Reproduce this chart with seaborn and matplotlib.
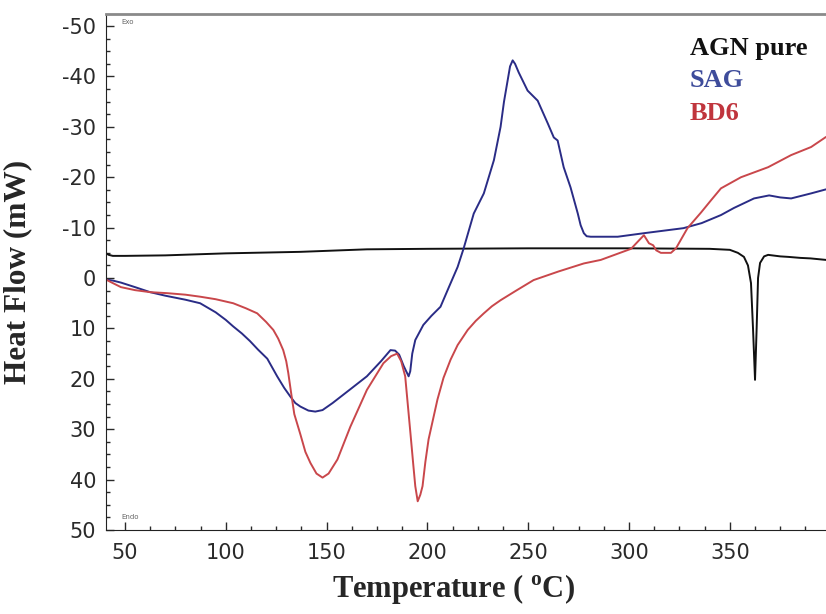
import numpy as np
import pandas as pd
import matplotlib
matplotlib.use("Agg")
import matplotlib.pyplot as plt
from matplotlib.ticker import MultipleLocator, AutoMinorLocator
import seaborn as sns

# DSC curves (Temperature in C, Heat Flow in mW)
agn_temp = [40.6, 42, 44, 50, 70, 100, 137, 170, 200, 250, 300, 340, 350, 354,
            357, 359, 360.5, 361.5, 362.5, 363.3, 364, 365, 367, 369, 375, 379,
            385, 390, 397.7]
agn_flow = [-4.9, -4.6, -4.4, -4.4, -4.5, -4.9, -5.2, -5.7, -5.8, -5.9, -5.9,
            -5.8, -5.6, -5.0, -4.2, -2.5, 1.0, 10.0, 20.2, 10.0, 0.0, -3.0,
            -4.3, -4.6, -4.3, -4.2, -4.0, -3.9, -3.6]

sag_temp = [40.6, 44, 48, 55, 62.5, 70, 80, 87.3, 95, 100, 103.7, 108, 112,
            116, 120.6, 125.5, 129, 132, 134.5, 137, 141, 144.4, 148, 153, 162,
            170, 177, 181.7, 184, 186, 188.3, 190.7, 191.5, 192.5, 194, 198,
            202, 206.5, 211, 215, 218, 223, 228, 233, 236.3, 238, 239.8, 241,
            242.3, 243.5, 245.3, 249.7, 254.7, 259.7, 262.7, 264.6, 267.6, 271,
            274.6, 276, 277.6, 279, 281, 294.4, 307.4, 327, 336, 345.6, 352,
            362, 369.5, 375, 380.4, 390.3, 397.7]
sag_flow = [0.3, 0.5, 0.9, 1.8, 2.8, 3.5, 4.3, 5.0, 6.8, 8.3, 9.6, 11.0, 12.5,
            14.2, 16.0, 19.5, 21.8, 23.5, 24.8, 25.5, 26.3, 26.5, 26.2, 24.8,
            22.0, 19.5, 16.5, 14.3, 14.4, 15.2, 17.5, 19.5, 18.5, 15.0, 12.3,
            9.3, 7.5, 5.7, 1.5, -2.2, -5.9, -12.8, -16.8, -23.4, -30.0, -35.0,
            -39.2, -42.0, -43.2, -42.5, -40.8, -37.2, -35.2, -30.7, -27.9,
            -27.3, -22.0, -18.0, -12.8, -10.5, -8.9, -8.3, -8.2, -8.2, -8.9,
            -9.9, -10.9, -12.5, -13.9, -15.8, -16.4, -16.0, -15.8, -16.8, -17.6]

bd6_temp = [40.6, 44, 48, 55, 62.5, 71, 80, 87.3, 95, 103.7, 110, 115.6, 120,
            123.6, 126, 128.5, 130, 131, 132.5, 134, 137, 139.5, 142, 145, 148,
            151, 155.4, 161.8, 170, 178.2, 182, 185, 187, 189, 191.6, 193, 194,
            195.2, 196.5, 197.6, 199, 200.6, 205, 208, 211.5, 215, 220, 224,
            228, 232, 236.3, 244, 252.7, 265, 277.6, 286, 301, 305, 307.4,
            309.9, 312, 313.5, 315.8, 320.8, 323.3, 329, 335.7, 340.6, 345.6,
            355.5, 369, 380.4, 390.3, 397.7]
bd6_flow = [0.3, 1.0, 1.8, 2.4, 2.8, 3.0, 3.3, 3.7, 4.2, 5.0, 6.0, 7.0, 8.7,
            10.3, 12.0, 14.3, 16.5, 18.8, 23.0, 27.0, 31.0, 34.5, 36.7, 38.8,
            39.6, 38.8, 36.0, 29.5, 22.2, 16.9, 15.5, 15.0, 16.5, 19.5, 30.8,
            37.0, 41.3, 44.3, 43.0, 41.3, 36.5, 32.0, 24.1, 19.8, 16.2, 13.3,
            10.3, 8.5, 7.0, 5.6, 4.4, 2.5, 0.4, -1.3, -2.9, -3.6, -5.8, -7.5,
            -8.5, -6.9, -6.5, -5.5, -5.0, -5.0, -5.9, -9.9, -13.0, -15.4, -17.8,
            -20.0, -22.0, -24.4, -26.0, -28.0]

series_names = ["AGN pure", "SAG", "BD6"]
line_colors = ["#111111", "#2a2c86", "#c9474b"]
label_colors = ["#111111", "#3e4c9b", "#c0353d"]

sns.set_style("ticks")
plt.rcParams["font.family"] = ["DejaVu Sans"]
plt.rcParams["axes.unicode_minus"] = False
plt.rcParams["mathtext.fontset"] = "custom"
plt.rcParams["mathtext.bf"] = "Liberation Serif:bold"
plt.rcParams["mathtext.rm"] = "Liberation Serif:bold"

df = pd.concat([
    pd.DataFrame({"temp": agn_temp, "flow": agn_flow, "sample": "AGN pure"}),
    pd.DataFrame({"temp": sag_temp, "flow": sag_flow, "sample": "SAG"}),
    pd.DataFrame({"temp": bd6_temp, "flow": bd6_flow, "sample": "BD6"}),
], ignore_index=True)

fig = plt.figure(figsize=(8.26, 6.14), dpi=100)
ax = fig.add_axes([0.1283, 0.1368, 0.8717, 0.8404])

for name, col in zip(series_names, line_colors):
    sns.lineplot(data=df[df["sample"] == name], x="temp", y="flow", ax=ax,
                 color=col, lw=1.4, sort=False, estimator=None, legend=False)

ax.set_xlim(40.6, 397.7)
ax.set_ylim(50, -52.4)
ax.xaxis.set_major_locator(MultipleLocator(50))
ax.yaxis.set_major_locator(MultipleLocator(10))
ax.xaxis.set_minor_locator(AutoMinorLocator(4))
ax.yaxis.set_minor_locator(AutoMinorLocator(4))
ax.tick_params(which="major", direction="in", length=6, width=1, labelsize=15,
               colors="#2a2a2a")
ax.tick_params(which="minor", direction="in", length=3, width=1, colors="#2a2a2a")
ax.tick_params(axis="y", pad=7)
ax.tick_params(axis="x", pad=9)

ax.spines["right"].set_visible(False)
ax.spines["top"].set_color("#8a8a8a")
ax.spines["top"].set_linewidth(2)
ax.spines["left"].set_color("#222222")
ax.spines["bottom"].set_color("#222222")

ax.set_xlabel(r"Temperature ( $^{\mathbf{o}}$C)", fontsize=22, fontweight="bold",
              fontfamily="Liberation Serif")
ax.set_ylabel("Heat Flow (mW)", fontsize=22.5, fontweight="bold",
              fontfamily="Liberation Serif")
ax.xaxis.set_label_coords(0.482, -0.082)
ax.yaxis.set_label_coords(-0.102, 0.5)

# text legend in the upper right
for i, (name, col) in enumerate(zip(series_names, label_colors)):
    ax.text(0.811, 0.934 - i * 0.063, name, transform=ax.transAxes, color=col,
            fontsize=19, fontweight="bold", fontfamily="Liberation Serif",
            va="center", ha="left")

ax.text(0.022, 0.99, "Exo", transform=ax.transAxes, fontsize=5, color="#666666",
        va="top")
ax.text(0.022, 0.02, "Endo", transform=ax.transAxes, fontsize=5, color="#666666",
        va="bottom")

fig.savefig("out.png", dpi=100)
